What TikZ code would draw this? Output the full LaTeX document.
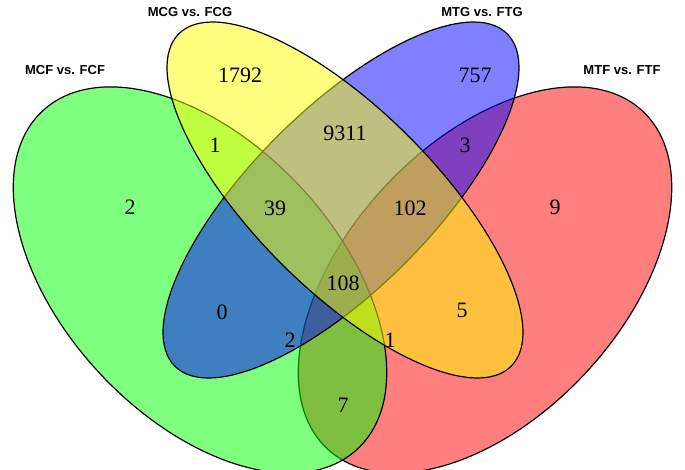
\documentclass[tikz,border=0pt]{standalone}
\usepackage{fontspec}
\setmainfont{Liberation Serif}
\setsansfont{Liberation Sans}
\begin{document}
\begin{tikzpicture}[x=1pt,y=1pt,
  set/.style={fill opacity=0.5,draw opacity=1,draw=black,line width=1.2pt},
  num/.style={font=\fontsize{22}{24}\selectfont},
  ttl/.style={font=\sffamily\bfseries\fontsize{13}{15}\selectfont}]
\useasboundingbox (0,0) rectangle (685,469);
\def\Y#1{469-#1}
\path[set,fill={rgb,255:red,255;green,0;blue,0}] (485,{\Y{280}}) ellipse[x radius=231,y radius=137,rotate=47];
\path[set,fill={rgb,255:red,0;green,255;blue,0}] (200,{\Y{280}}) ellipse[x radius=231,y radius=137,rotate=-47];
\path[set,fill={rgb,255:red,0;green,0;blue,255}] (341,{\Y{200}}) ellipse[x radius=235,y radius=90,rotate=45];
\path[set,fill={rgb,255:red,255;green,255;blue,0}] (345,{\Y{200}}) ellipse[x radius=235,y radius=90,rotate=-45];
\foreach \n/\x/\y/\t in {a/130/207/2,b/240/75/1792,c/215/145/1,d/345/133/9311,e/475/75/757,f/465/145/3,g/555/207/9,h/275/208/39,i/410/208/102,j/343/283/108,k/222/312/0,l/462/310/5,m/290/340/2,o/390/340/1,p/343/405/7}
  \node[num] (\n) at (\x,{\Y{\y}}) {\t};
\node[ttl] (t1) at (65,{\Y{70}}) {MCF vs. FCF};
\node[ttl] (t2) at (190,{\Y{12}}) {MCG vs. FCG};
\node[ttl] (t3) at (482,{\Y{12}}) {MTG vs. FTG};
\node[ttl] (t4) at (622,{\Y{70}}) {MTF vs. FTF};
\end{tikzpicture}
\end{document}
